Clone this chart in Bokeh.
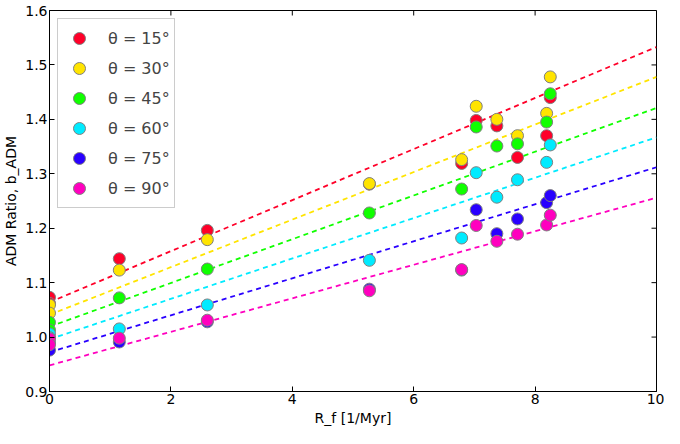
import math
from bokeh.plotting import figure
from bokeh.models import Range1d, FixedTicker, Legend, LegendItem, ColumnDataSource, CustomJSTickFormatter
from bokeh.embed import file_html
from bokeh.resources import INLINE

# ---- data ----
rf = [0.0, 0.0, 1.15, 2.6, 5.27, 6.79, 7.03, 7.37, 7.71, 8.19, 8.25]

labels = ["θ = 15°", "θ = 30°", "θ = 45°", "θ = 60°", "θ = 75°", "θ = 90°"]
colors = ["#ff0029", "#ffe400", "#10ff00", "#00ebff", "#2900ff", "#ff00bf"]

b_15 = [1.073, 1.062, 1.144, 1.196, 1.281, 1.319, 1.398, 1.388, 1.330, 1.370, 1.440]
b_30 = [1.059, 1.044, 1.123, 1.179, 1.282, 1.326, 1.424, 1.400, 1.370, 1.411, 1.478]
b_45 = [1.027, 1.013, 1.072, 1.125, 1.228, 1.272, 1.386, 1.351, 1.355, 1.395, 1.447]
b_60 = [1.006, 0.999, 1.015, 1.059, 1.141, 1.182, 1.302, 1.257, 1.289, 1.321, 1.353]
b_75 = [0.976, 0.990, 0.991, 1.028, 1.088, 1.123, 1.234, 1.190, 1.217, 1.247, 1.260]
b_90 = [0.997, 0.986, 0.998, 1.031, 1.085, 1.124, 1.205, 1.176, 1.189, 1.206, 1.224]
series = [b_15, b_30, b_45, b_60, b_75, b_90]

# linear fits (intercept, slope) per angle
fit_intercept = [1.064, 1.041, 1.019, 0.996, 0.972, 0.948]
fit_slope = [0.0469, 0.0437, 0.0402, 0.0371, 0.0340, 0.0308]
fit_x = [0.0, 10.0]

x_ticks = [0, 2, 4, 6, 8, 10]
y_ticks = [0.9, 1.0, 1.1, 1.2, 1.3, 1.4, 1.5, 1.6]
x_min, x_max = 0, 10
y_min, y_max = 0.9, 1.6

# ---- figure ----
p = figure(width=664, height=428, output_backend="svg", toolbar_location=None,
           x_range=Range1d(x_min, x_max), y_range=Range1d(y_min, y_max),
           min_border_left=4, min_border_right=8, min_border_top=10, min_border_bottom=2)
p.grid.visible = False
p.outline_line_color = "black"
p.outline_line_width = 1
p.background_fill_color = "white"
p.border_fill_color = "white"

FONT = "DejaVu Sans"

p.xaxis.ticker = FixedTicker(ticks=x_ticks)
p.yaxis.ticker = FixedTicker(ticks=y_ticks)
p.yaxis.formatter = CustomJSTickFormatter(code="return tick.toFixed(1);")
p.xaxis.axis_label = "R_f [1/Myr]"
p.yaxis.axis_label = "ADM Ratio, b_ADM"
for ax in (p.xaxis[0], p.yaxis[0]):
    ax.major_tick_in = 5
    ax.major_tick_out = 0
    ax.minor_tick_line_color = None
    ax.axis_line_color = "black"
    ax.major_label_text_font = FONT
    ax.major_label_text_font_size = "14px"
    ax.major_label_text_color = "black"
    ax.axis_label_text_font = FONT
    ax.axis_label_text_font_size = "14px"
    ax.axis_label_text_font_style = "normal"
    ax.axis_label_text_color = "black"
    ax.major_label_standoff = 2
    ax.axis_label_standoff = 3

# mirrored inward ticks on right and top spines
p.ray(x=[x_max] * len(y_ticks), y=y_ticks, length=5, length_units="screen",
      angle=math.pi, line_color="black", line_width=1)
p.ray(x=x_ticks, y=[y_max] * len(x_ticks), length=5, length_units="screen",
      angle=-math.pi / 2, line_color="black", line_width=1)

# fitted dashed lines
for a, b, c in zip(fit_intercept, fit_slope, colors):
    ys = [a + b * x for x in fit_x]
    p.line(fit_x, ys, line_color=c, line_width=1.8, line_dash="5 4")

# points
items = []
for vals, c, lab in zip(series, colors, labels):
    src = ColumnDataSource(dict(x=rf, y=vals))
    r = p.scatter("x", "y", source=src, size=12, fill_color=c,
                  line_color="#7f7f7f", line_width=1)
    items.append(LegendItem(label=lab, renderers=[r]))

legend = Legend(items=items, location="top_left")
legend.margin = 8
legend.padding = 4
legend.spacing = -5
legend.label_height = 21
legend.glyph_height = 30
legend.glyph_width = 34
legend.label_standoff = 12
legend.label_text_font = FONT
legend.label_text_font_size = "16px"
legend.border_line_color = "#999999"
legend.border_line_width = 1
legend.background_fill_alpha = 1
p.add_layout(legend, "center")

open("out.html", "w").write(file_html(p, INLINE))
